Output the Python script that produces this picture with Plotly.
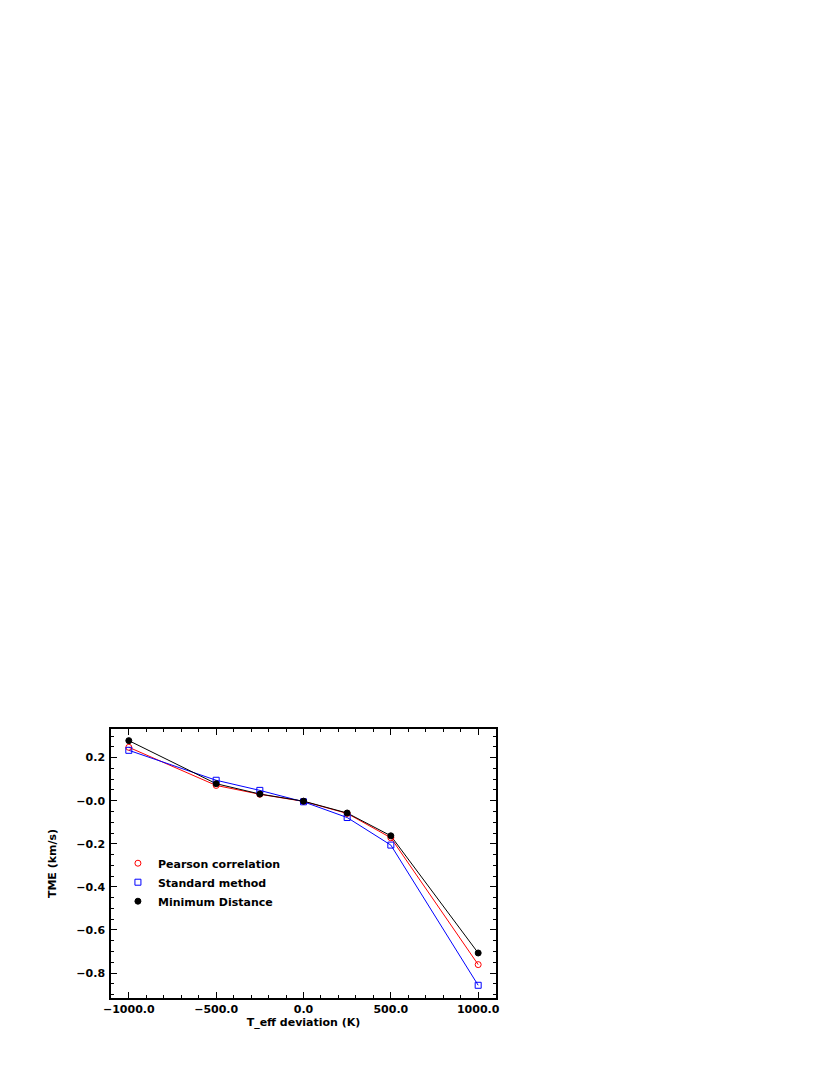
import plotly.graph_objects as go

teff_dev = [-1000, -500, -250, 0, 250, 500, 1000]
pearson = [0.248, 0.071, 0.030, -0.003, -0.059, -0.172, -0.761]
standard = [0.234, 0.095, 0.048, -0.005, -0.078, -0.206, -0.857]
min_dist = [0.279, 0.079, 0.031, -0.002, -0.057, -0.163, -0.707]

x_ticks = [-1000, -500, 0, 500, 1000]
x_ticktext = ['\u22121000.0', '\u2212500.0', '0.0', '500.0', '1000.0']
y_ticks = [0.2, 0.0, -0.2, -0.4, -0.6, -0.8]
y_ticktext = ['0.2', '\u22120.0', '\u22120.2', '\u22120.4', '\u22120.6', '\u22120.8']

series = [('Pearson correlation', pearson, 'red', 'circle-open', 6),
          ('Standard method', standard, 'blue', 'square-open', 6),
          ('Minimum Distance', min_dist, 'black', 'circle', 6)]

fig = go.Figure()

# lines drawn first, without legend
for name, vals, col, sym, sz in series:
    fig.add_trace(go.Scatter(x=teff_dev, y=vals, mode='lines',
                             line=dict(color=col, width=1),
                             showlegend=False, hoverinfo='skip'))

# markers carry the legend entries
for name, vals, col, sym, sz in series:
    fig.add_trace(go.Scatter(x=teff_dev, y=vals, mode='markers', name=name,
                             marker=dict(color=col, symbol=sym, size=sz,
                                         line=dict(color=col, width=1))))

font = dict(family='DejaVu Sans', size=11, color='black', weight='bold')

axis_common = dict(showline=True, linecolor='black', linewidth=1.5, mirror='allticks',
                   ticks='inside', ticklen=6, tickwidth=1, tickcolor='black',
                   showgrid=False, zeroline=False, tickfont=font)

fig.update_xaxes(range=[-1102, 1102], tickvals=x_ticks, ticktext=x_ticktext,
                 minor=dict(dtick=100, ticks='inside', ticklen=3, tickcolor='black', showgrid=False),
                 title=dict(text='T_eff deviation (K)', font=font, standoff=2),
                 **axis_common)
fig.update_yaxes(range=[-0.916, 0.333], tickvals=y_ticks, ticktext=y_ticktext,
                 minor=dict(dtick=0.05, ticks='inside', ticklen=3, tickcolor='black', showgrid=False),
                 title=dict(text='TME (km/s)', font=font, standoff=17),
                 ticklabelstandoff=2,
                 **axis_common)

# the page body adds an 8px offset, margins compensate for it
fig.update_layout(width=830, height=1075,
                  margin=dict(l=103, r=342, t=721, b=85),
                  plot_bgcolor='white', paper_bgcolor='white',
                  legend=dict(x=0.018, y=0.555, xanchor='left', yanchor='top',
                              bgcolor='rgba(0,0,0,0)', font=font, tracegroupgap=0,
                              itemwidth=30),
                  font=font)

fig.write_html("out.html")
